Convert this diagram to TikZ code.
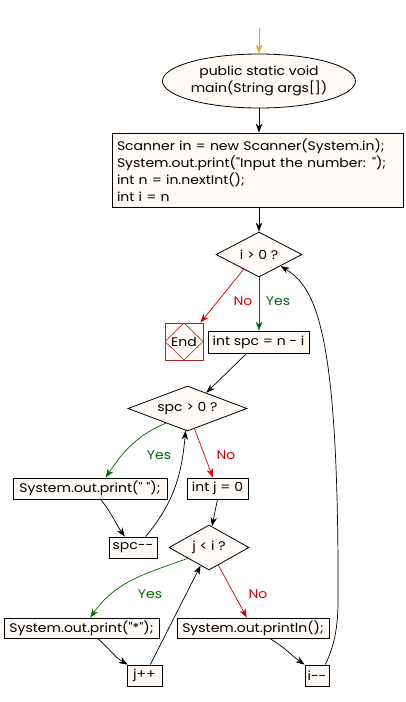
\documentclass[tikz,border=0pt]{standalone}
\usepackage{fontspec}
\setmainfont{Poppins}[Ligatures=TeXOff, FakeStretch=1.12]
\usetikzlibrary{shapes.geometric,arrows.meta}
\definecolor{fillc}{RGB}{255,250,245}
\definecolor{ygreen}{RGB}{0,105,0}
\definecolor{nred}{RGB}{210,0,0}
\definecolor{endred}{RGB}{165,40,40}
\definecolor{startor}{RGB}{245,160,30}
\begin{document}
\begin{tikzpicture}[x=1pt,y=-1pt,
  font=\fontsize{12.5}{17}\selectfont,
  box/.style={draw, fill=fillc, rectangle, inner sep=0pt, line width=0.8pt},
  dec/.style={draw, fill=fillc, diamond, inner sep=0pt, line width=0.8pt},
  startn/.style={draw, fill=fillc, ellipse, inner sep=0pt, line width=0.8pt, align=center},
  arr/.style={-{Stealth[length=9pt,width=6.5pt]}, line width=0.7pt},
  yes/.style={text=ygreen},
  no/.style={text=nred}]
\useasboundingbox (0,0) rectangle (405,702);

\node[startn, minimum width=155pt, minimum height=54pt] (start) at (259,81) {public static void\\main(String args[])};
\node[box, minimum width=291pt, minimum height=74pt, text width=281pt, align=left] (init) at (257.5,170)
  {Scanner in = new Scanner(System.in);\\System.out.print("Input the number: ");\\int n = in.nextInt();\\int i = n};
\node[dec, aspect=1.91, minimum width=86pt, minimum height=45pt] (d1) at (259,254.5) {i > 0 ?};
\node[draw=endred, fill=fillc, rectangle, inner sep=0pt, line width=0.8pt, minimum width=38pt, minimum height=37pt,
  path picture={\draw[endred, line width=0.6pt] (path picture bounding box.north) -- (path picture bounding box.east) -- (path picture bounding box.south) -- (path picture bounding box.west) -- cycle;}] (end) at (184,341.5) {End};
\node[box, minimum width=101pt, minimum height=22pt] (spc) at (258.5,342) {int spc = n - i};
\node[dec, aspect=2.64, minimum width=119pt, minimum height=45pt] (d2) at (187.5,408.5) {spc > 0 ?};
\node[box, minimum width=154pt, minimum height=21pt] (p1) at (90,488.5) {System.out.print(" ");};
\node[box, minimum width=61pt, minimum height=21pt] (j0) at (217.5,488.5) {int j = 0};
\node[box, minimum width=48pt, minimum height=21pt] (spcm) at (133,547.5) {spc--};
\node[dec, aspect=1.78, minimum width=80pt, minimum height=45pt] (d3) at (209,547.5) {j < i ?};
\node[box, minimum width=155pt, minimum height=20pt] (p2) at (81.5,628) {System.out.print("*");};
\node[box, minimum width=152pt, minimum height=20pt] (pln) at (253,628) {System.out.println();};
\node[box, minimum width=35pt, minimum height=21pt] (jpp) at (144.5,675.5) {j++};
\node[box, minimum width=24pt, minimum height=21pt] (im) at (317,675.5) {i--};

\node[no] (l1) at (243,301) {No};
\node[yes] (l2) at (278,301) {Yes};
\node[yes] (l3) at (159,455) {Yes};
\node[no] (l4) at (226,455) {No};
\node[yes] (l5) at (150,594) {Yes};
\node[no] (l6) at (258,594) {No};

\coordinate (s0) at (259,28);
\coordinate (lpA) at (338,600);

\draw[arr, startor] (s0) -- (start.north);
\draw[arr] (start.south) -- (start.south |- init.north);
\draw[arr] (init.south -| d1.north) -- (d1.north);
\draw[arr, nred] (d1.224) -- (end.49);
\draw[arr, ygreen] (d1.south) -- (d1.south |- spc.north);
\draw[arr] (spc.-136) -- (d2.40);
\draw[arr, ygreen] (d2.214) to[out=203,in=56] (p1.35);
\draw[arr, nred] (d2.-71) -- (j0.113);
\draw[arr] (p1.-46) to[out=-50,in=125] (spcm.127);
\draw[arr] (spcm.41) to[out=50,in=-95] (d2.-95);
\draw[arr] (j0.south) -- (d3.82);
\draw[arr, ygreen] (d3.207) to[out=200,in=55] (p2.50);
\draw[arr, nred] (d3.-62) -- (pln.121);
\draw[arr] (p2.-33) to[out=-40,in=150] (jpp.147);
\draw[arr] (jpp.62) -- (d3.-115);
\draw[arr] (pln.-32) to[out=-30,in=145] (im.north west);
\draw[arr] (im.53) .. controls (335,645) and (338,625) .. (lpA) .. controls (339,330) and (316,288) .. (d1.-28);
\end{tikzpicture}
\end{document}
